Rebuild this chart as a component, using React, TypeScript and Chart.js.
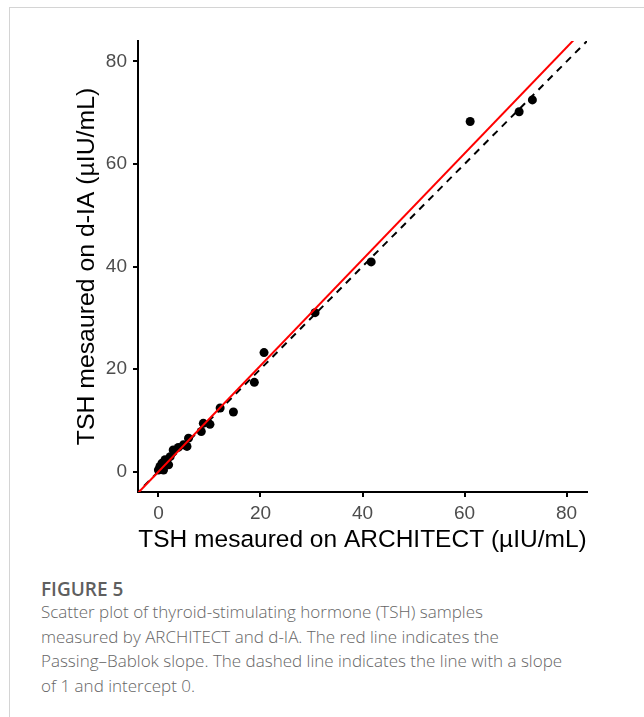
import React, { useEffect, useRef } from "react";
import { Chart, registerables } from "chart.js";

Chart.register(...registerables);

// TSH measured on ARCHITECT (x) vs d-IA (y), µIU/mL
const architect = [73.3, 70.7, 61.1, 41.7, 30.7, 20.7, 18.8, 14.7, 12.1, 10.1, 8.8, 8.4, 5.9, 5.6, 4.9, 3.9, 2.9, 2.3, 1.3, 0.7, 0.3, 0.0, 2.0, 1.0, 1.5];
const dIA = [72.5, 70.2, 68.3, 40.9, 31.0, 23.2, 17.4, 11.6, 12.4, 9.2, 9.4, 7.8, 6.5, 4.9, 5.2, 4.7, 4.2, 2.9, 2.3, 1.6, 1.0, 0.3, 1.3, 0.3, 1.9];
const axisTicks = [0, 20, 40, 60, 80];
const axisMin = -4;
const axisMax = 84;
const pbSlope = 1.035;
const pbIntercept = -0.05;
const lineXs = [-10, 100];

const xTitle = "TSH mesaured on ARCHITECT (µIU/mL)";
const yTitle = "TSH mesaured on d-IA (µIU/mL)";
const figureLabel = "FIGURE 5";
const captionLines = [
  "Scatter plot of thyroid-stimulating hormone (TSH) samples",
  "measured by ARCHITECT and d-IA. The red line indicates the",
  "Passing\u2013Bablok slope. The dashed line indicates the line with a slope",
  "of 1 and intercept 0.",
];

const CW = 644;
const CH = 570;

export default function App() {
  const ref = useRef<HTMLCanvasElement | null>(null);

  useEffect(() => {
    if (!ref.current) return;
    const points = architect.map((x, i) => ({ x, y: dIA[i] }));
    const pbLine = lineXs.map((x) => ({ x, y: pbSlope * x + pbIntercept }));
    const idLine = lineXs.map((x) => ({ x, y: x }));
    const tickFont = { family: "'Liberation Sans', Arial, sans-serif", size: 19 };
    const xTitleFont = { family: "'Liberation Sans', Arial, sans-serif", size: 24.5 };
    const yTitleFont = { family: "'Liberation Sans', Arial, sans-serif", size: 24.8 };
    const setTicks = (scale: any) => {
      scale.ticks = axisTicks.map((v) => ({ value: v }));
    };
    const chart = new Chart(ref.current, {
      type: "scatter",
      data: {
        datasets: [
          {
            label: "Passing-Bablok",
            type: "line",
            data: pbLine,
            borderColor: "#ff0000",
            borderWidth: 2,
            pointRadius: 0,
            fill: false,
            clip: 0,
            order: 0,
          } as any,
          {
            label: "Identity",
            type: "line",
            data: idLine,
            borderColor: "#000000",
            borderWidth: 2,
            borderDash: [7, 6],
            pointRadius: 0,
            fill: false,
            clip: 0,
            order: 1,
          } as any,
          {
            label: "Samples",
            data: points,
            backgroundColor: "#000000",
            borderWidth: 0,
            pointRadius: 4.5,
            order: 2,
          },
        ],
      },
      options: {
        responsive: false,
        animation: false,
        devicePixelRatio: 1,
        layout: { padding: { left: 60, top: 41, right: CW - 587, bottom: 0 } },
        plugins: { legend: { display: false }, tooltip: { enabled: false } },
        scales: {
          x: {
            type: "linear",
            min: axisMin,
            max: axisMax,
            afterBuildTicks: setTicks,
            afterFit: (s: any) => {
              s.height = CH - 492;
            },
            border: { color: "#000", width: 2 },
            grid: { drawOnChartArea: false, drawTicks: true, tickLength: 5, color: "#000", lineWidth: 2 },
            ticks: { color: "#4d4d4d", font: tickFont, padding: 5, maxRotation: 0 },
            title: {
              display: true,
              text: xTitle,
              color: "#000",
              font: xTitleFont,
              padding: { top: 0, bottom: 15.3 },
            },
          },
          y: {
            type: "linear",
            min: axisMin,
            max: axisMax,
            afterBuildTicks: setTicks,
            afterFit: (s: any) => {
              s.width = 138 - 60;
            },
            border: { color: "#000", width: 2 },
            grid: { drawOnChartArea: false, drawTicks: true, tickLength: 5, color: "#000", lineWidth: 2 },
            ticks: { color: "#4d4d4d", font: tickFont, padding: 6 },
            title: {
              display: true,
              text: yTitle,
              color: "#000",
              font: yTitleFont,
              padding: { top: 12.2, bottom: 0 },
            },
          },
        },
      },
    });
    return () => chart.destroy();
  }, []);

  return (
    <div style={{ position: "absolute", left: 0, top: 0, width: CW, height: 717, overflow: "hidden", background: "#fff" }}>
      <div
        style={{
          position: "absolute",
          left: 9,
          top: 7,
          width: 800,
          height: 800,
          borderTop: "1px solid #d4d4d4",
          borderLeft: "1px solid #d4d4d4",
        }}
      />
      <canvas ref={ref} width={CW} height={CH} style={{ position: "absolute", left: 0, top: 0, width: CW, height: CH }} />
      <div
        style={{
          position: "absolute",
          left: 41,
          top: 575,
          fontFamily: "'Open Sans', 'Noto Sans', sans-serif",
          fontWeight: 600,
          fontSize: 19,
          color: "#5f5f5f",
          lineHeight: "28px",
          whiteSpace: "nowrap",
        }}
      >
        {figureLabel}
      </div>
      <div
        style={{
          position: "absolute",
          left: 41,
          top: 600,
          fontFamily: "'Open Sans', 'Noto Sans', sans-serif",
          fontWeight: 300,
          fontSize: 17,
          color: "#666",
          lineHeight: "24.5px",
          whiteSpace: "nowrap",
        }}
      >
        {captionLines.map((l, i) => (
          <div key={i}>{l}</div>
        ))}
      </div>
    </div>
  );
}
